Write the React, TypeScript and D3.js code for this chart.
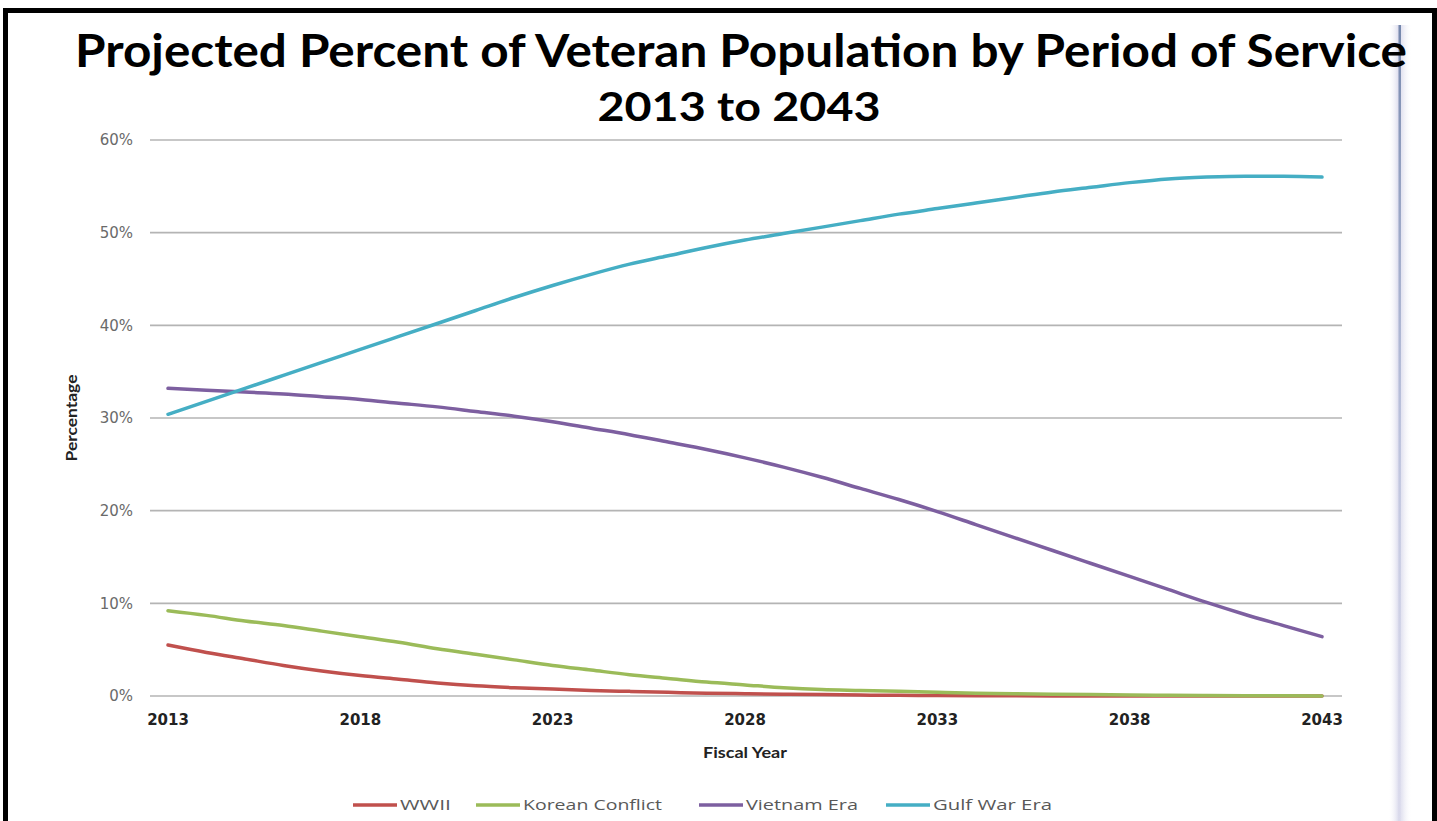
import React from "react";
import * as d3 from "d3";

const years: number[] = d3.range(2013, 2044);

const wwii: number[] = [5.5, 4.7, 4.0, 3.3, 2.7, 2.2, 1.8, 1.4, 1.1, 0.9, 0.75, 0.6, 0.5, 0.4, 0.3, 0.25, 0.2, 0.15, 0.1, 0.08, 0.05, 0.03, 0.02, 0.01, 0, 0, 0, 0, 0, 0, 0];
const korean: number[] = [9.2, 8.7, 8.1, 7.6, 7.0, 6.4, 5.8, 5.1, 4.5, 3.9, 3.3, 2.8, 2.3, 1.9, 1.5, 1.2, 0.9, 0.7, 0.6, 0.5, 0.4, 0.3, 0.25, 0.2, 0.15, 0.1, 0.08, 0.06, 0.04, 0.02, 0.0];
const vietnam: number[] = [33.2, 33.0, 32.8, 32.6, 32.3, 32.0, 31.6, 31.2, 30.7, 30.2, 29.6, 28.9, 28.2, 27.4, 26.6, 25.7, 24.7, 23.6, 22.4, 21.2, 19.9, 18.5, 17.1, 15.7, 14.3, 12.9, 11.5, 10.1, 8.8, 7.6, 6.4];
const gulf: number[] = [30.4, 31.8, 33.2, 34.6, 36.0, 37.4, 38.8, 40.2, 41.6, 43.0, 44.3, 45.5, 46.6, 47.5, 48.4, 49.2, 49.9, 50.6, 51.3, 52.0, 52.6, 53.2, 53.8, 54.4, 54.9, 55.4, 55.8, 56.0, 56.1, 56.1, 56.0];

const seriesNames: string[] = ["WWII", "Korean Conflict", "Vietnam Era", "Gulf War Era"];
const seriesColors: string[] = ["#C0504D", "#9BBB59", "#7D5FA0", "#45AEC4"];
const seriesValues: number[][] = [wwii, korean, vietnam, gulf];

const xTicks: number[] = [2013, 2018, 2023, 2028, 2033, 2038, 2043];
const yTicks: number[] = [0, 10, 20, 30, 40, 50, 60];

const titleLine1 = "Projected Percent of Veteran Population by Period of Service";
const titleLine2 = "2013 to 2043";

// legend layout (positions only)
const legendLineX: number[] = [353, 476, 699, 886];
const legendTextLen: number[] = [51, 139, 112, 119];

export default function App() {
  const W = 1437;
  const H = 821;
  const x = d3.scaleLinear().domain([2013, 2043]).range([168, 1322]);
  const y = d3.scaleLinear().domain([0, 60]).range([696, 140]);
  const gridX0 = 150;
  const gridX1 = 1342;

  const line = d3
    .line<number>()
    .x((_, i) => x(years[i]))
    .y((d) => y(d))
    .curve(d3.curveMonotoneX);

  return (
    <div style={{ position: "absolute", left: 0, top: 0 }}>
      <svg width={W} height={H} style={{ display: "block", background: "#fff" }}>
        <defs>
          <linearGradient id="sideBar" x1="0" x2="1" y1="0" y2="0">
            <stop offset="0" stopColor="#ffffff" stopOpacity="0" />
            <stop offset="0.45" stopColor="#d6d6ea" stopOpacity="0.9" />
            <stop offset="0.6" stopColor="#e2e2f0" stopOpacity="0.8" />
            <stop offset="1" stopColor="#ffffff" stopOpacity="0" />
          </linearGradient>
          <linearGradient id="sideLine" x1="0" x2="0" y1="0" y2="1">
            <stop offset="0" stopColor="#6f82a8" stopOpacity="0.95" />
            <stop offset="0.5" stopColor="#a3aed0" stopOpacity="0.6" />
            <stop offset="1" stopColor="#d0d0e6" stopOpacity="0.2" />
          </linearGradient>
        </defs>
        <rect x={0} y={0} width={W} height={H} fill="#fff" />

        {/* right decorative bar */}
        <rect x={1388} y={25} width={24} height={H - 25} fill="url(#sideBar)" />
        <rect x={1398.5} y={25} width={2.5} height={H - 25} fill="url(#sideLine)" />

        {/* title */}
        <text
          x={75}
          y={67}
          textLength={1332}
          lengthAdjust="spacingAndGlyphs"
          fontFamily="Lato, 'Open Sans', sans-serif"
          fontWeight={700}
          fontSize={46}
          fill="#000"
        >
          {titleLine1}
        </text>
        <text
          x={739}
          y={121}
          textAnchor="middle"
          textLength={283}
          lengthAdjust="spacingAndGlyphs"
          fontFamily="Lato, 'Open Sans', sans-serif"
          fontWeight={700}
          fontSize={41}
          fill="#000"
        >
          {titleLine2}
        </text>

        {/* gridlines */}
        {yTicks.map((t) => (
          <line key={"g" + t} x1={gridX0} x2={gridX1} y1={y(t)} y2={y(t)} stroke="#b4b4b4" strokeWidth={1.6} />
        ))}

        {/* y tick labels */}
        {yTicks.map((t) => (
          <text
            key={"yl" + t}
            x={133}
            y={y(t)}
            dy="0.36em"
            textAnchor="end"
            fontFamily="'DejaVu Sans', Verdana, sans-serif"
            fontSize={15}
            fill="#6a6a6a"
          >
            {t + "%"}
          </text>
        ))}

        {/* x tick labels */}
        {xTicks.map((t) => (
          <text
            key={"xl" + t}
            x={x(t)}
            y={725}
            textAnchor="middle"
            fontFamily="'DejaVu Sans', Verdana, sans-serif"
            fontWeight={700}
            fontSize={15}
            fill="#222"
          >
            {t}
          </text>
        ))}

        {/* axis titles */}
        <text
          x={745}
          y={758}
          textAnchor="middle"
          textLength={84}
          lengthAdjust="spacingAndGlyphs"
          fontFamily="Lato, 'Open Sans', sans-serif"
          fontWeight={700}
          fontSize={16}
          fill="#222"
        >
          Fiscal Year
        </text>
        <text
          transform="translate(77,418) rotate(-90)"
          textAnchor="middle"
          textLength={87}
          lengthAdjust="spacingAndGlyphs"
          fontFamily="Lato, 'Open Sans', sans-serif"
          fontWeight={700}
          fontSize={16}
          fill="#222"
        >
          Percentage
        </text>

        {/* series */}
        {seriesValues.map((vals, i) => (
          <path
            key={"s" + i}
            d={line(vals) || ""}
            fill="none"
            stroke={seriesColors[i]}
            strokeWidth={3.5}
            strokeLinecap="round"
            strokeLinejoin="round"
          />
        ))}

        {/* legend */}
        {seriesNames.map((name, i) => (
          <g key={"lg" + i}>
            <line
              x1={legendLineX[i]}
              x2={legendLineX[i] + 44}
              y1={805}
              y2={805}
              stroke={seriesColors[i]}
              strokeWidth={3.5}
            />
            <text
              x={legendLineX[i] + 47}
              y={805}
              dy="0.36em"
              textLength={legendTextLen[i]}
              lengthAdjust="spacingAndGlyphs"
              fontFamily="'Open Sans', Lato, sans-serif"
              fontSize={15}
              fill="#595959"
            >
              {name}
            </text>
          </g>
        ))}

        {/* black frame */}
        <rect x={3} y={8} width={W - 3} height={5} fill="#000" />
        <rect x={3} y={8} width={5} height={H - 8} fill="#000" />
        <rect x={1432} y={8} width={5} height={H - 8} fill="#000" />
      </svg>
    </div>
  );
}
